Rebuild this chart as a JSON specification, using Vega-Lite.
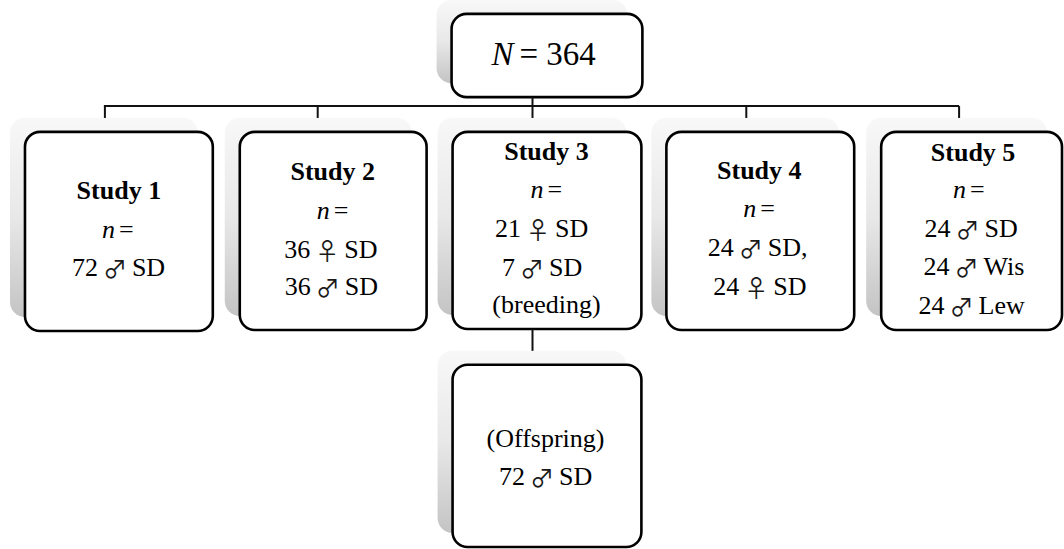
{
  "$schema": "https://vega.github.io/schema/vega-lite/v6.json",
  "width": 1064,
  "height": 549,
  "autosize": {"type": "fit", "contains": "padding"},
  "padding": 0,
  "background": "white",
  "config": {"view": {"stroke": null}},
  "datasets": {
    "boxes": [
      {"box": "N", "x": 452, "x2": 643, "y": 9, "y2": 93},
      {"box": "Study 1", "x": 25, "x2": 213, "y": 128, "y2": 329},
      {"box": "Study 2", "x": 240, "x2": 427, "y": 128, "y2": 328},
      {"box": "Study 3", "x": 453, "x2": 642, "y": 128, "y2": 327},
      {"box": "Study 4", "x": 667, "x2": 855, "y": 128, "y2": 328},
      {"box": "Study 5", "x": 882, "x2": 1063, "y": 128, "y2": 328},
      {"box": "Offspring", "x": 453, "x2": 642, "y": 363, "y2": 547}
    ],
    "links": [
      {"x": 533, "x2": 533, "y": 93, "y2": 102},
      {"x": 104, "x2": 960, "y": 102, "y2": 102},
      {"x": 105, "x2": 105, "y": 102, "y2": 114},
      {"x": 318, "x2": 318, "y": 102, "y2": 114},
      {"x": 533, "x2": 533, "y": 102, "y2": 114},
      {"x": 747, "x2": 747, "y": 102, "y2": 114},
      {"x": 960, "x2": 960, "y": 102, "y2": 114},
      {"x": 533, "x2": 533, "y": 327, "y2": 349}
    ],
    "labels": [
      {"kind": "bigitalic", "text": "N", "x": 514, "y": 61},
      {"kind": "bigplain", "text": "= 364", "x": 520, "y": 61},

      {"kind": "title", "text": "Study 1", "x": 119, "y": 196},
      {"kind": "italic", "text": "n", "x": 115, "y": 235},
      {"kind": "eq", "text": "=", "x": 119, "y": 235},

      {"kind": "title", "text": "Study 2", "x": 333, "y": 177},
      {"kind": "italic", "text": "n", "x": 330, "y": 216},
      {"kind": "eq", "text": "=", "x": 334, "y": 216},

      {"kind": "title", "text": "Study 3", "x": 547, "y": 156},
      {"kind": "italic", "text": "n", "x": 544, "y": 195},
      {"kind": "eq", "text": "=", "x": 548, "y": 195},
      {"kind": "body", "text": "(breeding)", "x": 547, "y": 311},

      {"kind": "title", "text": "Study 4", "x": 760, "y": 176},
      {"kind": "italic", "text": "n", "x": 757, "y": 214},
      {"kind": "eq", "text": "=", "x": 761, "y": 214},

      {"kind": "title", "text": "Study 5", "x": 974, "y": 157},
      {"kind": "italic", "text": "n", "x": 967, "y": 195},
      {"kind": "eq", "text": "=", "x": 971, "y": 195},

      {"kind": "body", "text": "(Offspring)", "x": 546, "y": 446}
    ],
    "counts": [
      {"box": "Study 1", "left": "72", "sym": "♂", "right": "SD", "x": 115, "y": 273},
      {"box": "Study 2", "left": "36", "sym": "♀", "right": "SD", "x": 327.5, "y": 255},
      {"box": "Study 2", "left": "36", "sym": "♂", "right": "SD", "x": 328, "y": 293},
      {"box": "Study 3", "left": "21", "sym": "♀", "right": "SD", "x": 538.5, "y": 234},
      {"box": "Study 3", "left": "7", "sym": "♂", "right": "SD", "x": 532.5, "y": 273},
      {"box": "Study 4", "left": "24", "sym": "♂", "right": "SD,", "x": 751.5, "y": 253},
      {"box": "Study 4", "left": "24", "sym": "♀", "right": "SD", "x": 757, "y": 293},
      {"box": "Study 5", "left": "24", "sym": "♂", "right": "SD", "x": 968.5, "y": 234},
      {"box": "Study 5", "left": "24", "sym": "♂", "right": "Wis", "x": 967.5, "y": 272},
      {"box": "Study 5", "left": "24", "sym": "♂", "right": "Lew", "x": 962.5, "y": 312},
      {"box": "Offspring", "left": "72", "sym": "♂", "right": "SD", "x": 542.5, "y": 484}
    ]
  },
  "layer": [
    {
      "data": {"name": "boxes"},
      "mark": {
        "type": "rect",
        "cornerRadius": 15,
        "xOffset": -15, "x2Offset": -15, "yOffset": -14, "y2Offset": -14,
        "fill": {"gradient": "linear", "x1": 0, "y1": 0, "x2": 0, "y2": 1,
          "stops": [{"offset": 0, "color": "#f8f8f8"}, {"offset": 0.5, "color": "#e8e8e8"}, {"offset": 1, "color": "#c4c4c4"}]}
      },
      "encoding": {
        "x": {"field": "x", "type": "quantitative", "scale": {"domain": [0, 1064], "nice": false, "zero": false}, "axis": null},
        "x2": {"field": "x2"},
        "y": {"field": "y", "type": "quantitative", "scale": {"domain": [0, 549], "nice": false, "zero": false, "reverse": true}, "axis": null},
        "y2": {"field": "y2"}
      }
    },
    {
      "data": {"name": "boxes"},
      "mark": {"type": "rect", "cornerRadius": 15, "fill": "white", "stroke": "#000000", "strokeWidth": 2.6},
      "encoding": {
        "x": {"field": "x", "type": "quantitative", "scale": {"domain": [0, 1064], "nice": false, "zero": false}, "axis": null},
        "x2": {"field": "x2"},
        "y": {"field": "y", "type": "quantitative", "scale": {"domain": [0, 549], "nice": false, "zero": false, "reverse": true}, "axis": null},
        "y2": {"field": "y2"}
      }
    },
    {
      "data": {"name": "links"},
      "mark": {"type": "rule", "color": "#111111", "strokeWidth": 2},
      "encoding": {
        "x": {"field": "x", "type": "quantitative", "scale": {"domain": [0, 1064], "nice": false, "zero": false}, "axis": null},
        "x2": {"field": "x2"},
        "y": {"field": "y", "type": "quantitative", "scale": {"domain": [0, 549], "nice": false, "zero": false, "reverse": true}, "axis": null},
        "y2": {"field": "y2"}
      }
    },
    {
      "data": {"name": "labels"},
      "transform": [{"filter": "datum.kind === 'title'"}],
      "mark": {"type": "text", "font": "'Liberation Serif', serif", "fontSize": 26, "fontWeight": "bold", "align": "center", "baseline": "alphabetic", "color": "#000000"},
      "encoding": {
        "x": {"field": "x", "type": "quantitative", "scale": {"domain": [0, 1064], "nice": false, "zero": false}, "axis": null},
        "y": {"field": "y", "type": "quantitative", "scale": {"domain": [0, 549], "nice": false, "zero": false, "reverse": true}, "axis": null},
        "text": {"field": "text"}
      }
    },
    {
      "data": {"name": "labels"},
      "transform": [{"filter": "datum.kind === 'body'"}],
      "mark": {"type": "text", "font": "'Liberation Serif', serif", "fontSize": 26, "align": "center", "baseline": "alphabetic", "color": "#000000"},
      "encoding": {
        "x": {"field": "x", "type": "quantitative", "scale": {"domain": [0, 1064], "nice": false, "zero": false}, "axis": null},
        "y": {"field": "y", "type": "quantitative", "scale": {"domain": [0, 549], "nice": false, "zero": false, "reverse": true}, "axis": null},
        "text": {"field": "text"}
      }
    },
    {
      "data": {"name": "labels"},
      "transform": [{"filter": "datum.kind === 'italic'"}],
      "mark": {"type": "text", "font": "'Liberation Serif', serif", "fontSize": 26, "fontStyle": "italic", "align": "right", "baseline": "alphabetic", "color": "#000000"},
      "encoding": {
        "x": {"field": "x", "type": "quantitative", "scale": {"domain": [0, 1064], "nice": false, "zero": false}, "axis": null},
        "y": {"field": "y", "type": "quantitative", "scale": {"domain": [0, 549], "nice": false, "zero": false, "reverse": true}, "axis": null},
        "text": {"field": "text"}
      }
    },
    {
      "data": {"name": "labels"},
      "transform": [{"filter": "datum.kind === 'eq'"}],
      "mark": {"type": "text", "font": "'Liberation Serif', serif", "fontSize": 26, "align": "left", "baseline": "alphabetic", "color": "#000000"},
      "encoding": {
        "x": {"field": "x", "type": "quantitative", "scale": {"domain": [0, 1064], "nice": false, "zero": false}, "axis": null},
        "y": {"field": "y", "type": "quantitative", "scale": {"domain": [0, 549], "nice": false, "zero": false, "reverse": true}, "axis": null},
        "text": {"field": "text"}
      }
    },
    {
      "data": {"name": "labels"},
      "transform": [{"filter": "datum.kind === 'bigitalic'"}],
      "mark": {"type": "text", "font": "'Liberation Serif', serif", "fontSize": 33, "fontStyle": "italic", "align": "right", "baseline": "alphabetic", "color": "#000000"},
      "encoding": {
        "x": {"field": "x", "type": "quantitative", "scale": {"domain": [0, 1064], "nice": false, "zero": false}, "axis": null},
        "y": {"field": "y", "type": "quantitative", "scale": {"domain": [0, 549], "nice": false, "zero": false, "reverse": true}, "axis": null},
        "text": {"field": "text"}
      }
    },
    {
      "data": {"name": "labels"},
      "transform": [{"filter": "datum.kind === 'bigplain'"}],
      "mark": {"type": "text", "font": "'Liberation Serif', serif", "fontSize": 33, "align": "left", "baseline": "alphabetic", "color": "#000000"},
      "encoding": {
        "x": {"field": "x", "type": "quantitative", "scale": {"domain": [0, 1064], "nice": false, "zero": false}, "axis": null},
        "y": {"field": "y", "type": "quantitative", "scale": {"domain": [0, 549], "nice": false, "zero": false, "reverse": true}, "axis": null},
        "text": {"field": "text"}
      }
    },
    {
      "data": {"name": "counts"},
      "mark": {"type": "text", "font": "'Liberation Serif', serif", "fontSize": 26, "align": "right", "baseline": "alphabetic", "dx": -17, "color": "#000000"},
      "encoding": {
        "x": {"field": "x", "type": "quantitative", "scale": {"domain": [0, 1064], "nice": false, "zero": false}, "axis": null},
        "y": {"field": "y", "type": "quantitative", "scale": {"domain": [0, 549], "nice": false, "zero": false, "reverse": true}, "axis": null},
        "text": {"field": "left"}
      }
    },
    {
      "data": {"name": "counts"},
      "mark": {"type": "text", "font": "'Noto Sans CJK JP', 'DejaVu Sans', sans-serif", "fontSize": 24, "align": "center", "baseline": "alphabetic", "dy": 2, "color": "#1a1a1a"},
      "encoding": {
        "x": {"field": "x", "type": "quantitative", "scale": {"domain": [0, 1064], "nice": false, "zero": false}, "axis": null},
        "y": {"field": "y", "type": "quantitative", "scale": {"domain": [0, 549], "nice": false, "zero": false, "reverse": true}, "axis": null},
        "text": {"field": "sym"}
      }
    },
    {
      "data": {"name": "counts"},
      "mark": {"type": "text", "font": "'Liberation Serif', serif", "fontSize": 26, "align": "left", "baseline": "alphabetic", "dx": 17, "color": "#000000"},
      "encoding": {
        "x": {"field": "x", "type": "quantitative", "scale": {"domain": [0, 1064], "nice": false, "zero": false}, "axis": null},
        "y": {"field": "y", "type": "quantitative", "scale": {"domain": [0, 549], "nice": false, "zero": false, "reverse": true}, "axis": null},
        "text": {"field": "right"}
      }
    }
  ]
}
